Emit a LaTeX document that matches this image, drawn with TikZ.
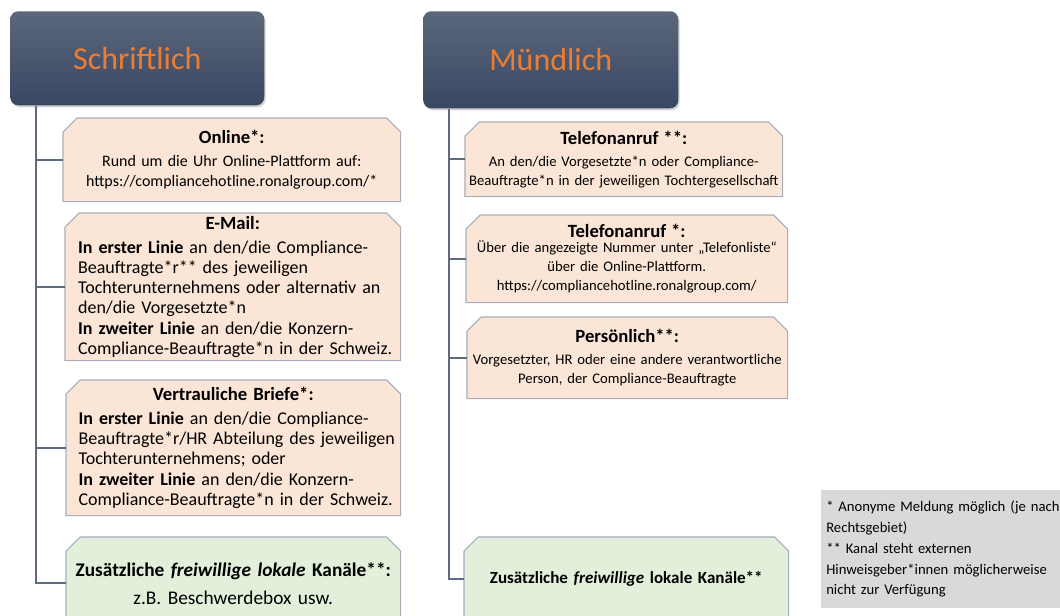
\documentclass[tikz,border=0pt]{standalone}
\usepackage{fontspec}
\setmainfont{Carlito}
\usetikzlibrary{shadows,backgrounds}

\definecolor{headtop}{HTML}{5B677B}
\definecolor{headbot}{HTML}{3A4762}
\definecolor{headtxt}{HTML}{ED7D31}
\definecolor{peach}{HTML}{FBE5D6}
\definecolor{mint}{HTML}{E2EFDA}
\definecolor{rim}{HTML}{A6AEBC}
\definecolor{trunk}{HTML}{5E6A7D}
\definecolor{notegray}{HTML}{D9D9D9}

\newcommand\boxtitle[2][2pt]{{\centering\fontsize{14}{17}\selectfont\bfseries #2\par}\vspace{#1}}

\begin{document}
\begin{tikzpicture}[x=0.75pt,y=-0.75pt,
  head node/.style={rounded corners=6pt,top color=headtop,bottom color=headbot,text=headtxt,
    font=\fontsize{24}{28}\selectfont,inner sep=0pt,anchor=north west,
    drop shadow={opacity=0.35,shadow xshift=1pt,shadow yshift=-1.5pt}},
  box node/.style={anchor=north west,inner sep=0pt,text width=236pt,align=center},
  note node/.style={fill=notegray,anchor=north west,inner xsep=3.75pt,text width=186pt,align=left,
    font=\fontsize{11}{15.6}\selectfont},
  chamfer/.style={draw=rim,line width=0.8pt},
  trunk line/.style={draw=trunk,line width=1.5pt}]
  \useasboundingbox (0,0) rectangle (1060,615);

  % left column
  \node[head node,minimum width=190.5pt,minimum height=70.5pt] (1) at (10,11) {Schriftlich};
  \node[box node,minimum width=252.75pt,minimum height=62.25pt,font=\fontsize{12}{15}\selectfont] (2) at (63,118)
    {\boxtitle{Online*:}Rund um die Uhr Online-Plattform auf:\\https://compliancehotline.ronalgroup.com/*};
  \node[box node,minimum width=251.25pt,minimum height=110.25pt,text width=250pt,align=left,font=\fontsize{13.5}{15.1}\selectfont] (3) at (65,213)
    {\boxtitle[3pt]{E-Mail:}\hspace*{9pt}\parbox[t]{241pt}{\raggedright
     \textbf{In erster Linie} an den/die Compliance-\\Beauftragte*r** des jeweiligen\\Tochterunternehmens oder alternativ an\\den/die Vorgesetzte*n\\
     \textbf{In zweiter Linie} an den/die Konzern-\\Compliance-Beauftragte*n in der Schweiz.}};
  \node[box node,minimum width=250.5pt,minimum height=101.25pt,text width=250pt,align=left,font=\fontsize{13.5}{15.1}\selectfont] (4) at (66,380)
    {\boxtitle[3pt]{Vertrauliche Briefe*:}\hspace*{9pt}\parbox[t]{241pt}{\raggedright
     \textbf{In erster Linie} an den/die Compliance-\\Beauftragte*r/HR Abteilung des jeweiligen\\Tochterunternehmens; oder\\
     \textbf{In zweiter Linie} an den/die Konzern-\\Compliance-Beauftragte*n in der Schweiz.}};
  \node[box node,minimum width=250.5pt,minimum height=69pt,text width=248pt,font=\fontsize{14.5}{21}\selectfont] (5) at (66,537)
    {\textbf{Zusätzliche \textit{freiwillige lokale} Kanäle**:}\\z.B. Beschwerdebox usw.};

  % right column
  \node[head node,minimum width=191.25pt,minimum height=72.75pt] (6) at (423,11) {Mündlich};
  \node[box node,minimum width=237.75pt,minimum height=55.5pt,font=\fontsize{11}{13.9}\selectfont] (7) at (465,122)
    {\boxtitle[3pt]{Telefonanruf **:}An den/die Vorgesetzte*n oder Compliance-\\Beauftragte*n in der jeweiligen Tochtergesellschaft};
  \node[box node,minimum width=240.75pt,minimum height=65.25pt,font=\fontsize{11}{14.2}\selectfont] (8) at (466,215)
    {\boxtitle[-3pt]{Telefonanruf *:}Über die angezeigte Nummer unter „Telefonliste“\\über die Online-Plattform.\\https://compliancehotline.ronalgroup.com/};
  \node[box node,minimum width=240pt,minimum height=60.75pt,font=\fontsize{11}{14.2}\selectfont] (9) at (467,317)
    {\boxtitle{Persönlich**:}Vorgesetzter, HR oder eine andere verantwortliche\\Person, der Compliance-Beauftragte};
  \node[box node,minimum width=243pt,minimum height=63pt,font=\fontsize{12.75}{15}\selectfont\bfseries] (10) at (464,537)
    {Zusätzliche \textit{freiwillige} lokale Kanäle**};

  % footnote
  \node[note node,minimum width=186pt,minimum height=88.5pt] (11) at (821,490)
    {* Anonyme Meldung möglich (je nach\\Rechtsgebiet)\\{}** Kanal steht externen\\Hinweisgeber*innen möglicherweise\\nicht zur Verfügung};

  % chamfered frames behind the texts
  \begin{pgfonlayer}{background}
    \foreach \n/\c in {2/peach,3/peach,4/peach,5/mint,7/peach,8/peach,9/peach,10/mint}
      \filldraw[chamfer,fill=\c] ([yshift=-10.5pt]\n.north west) -- ([xshift=10.5pt]\n.north west)
        -- ([xshift=-10.5pt]\n.north east) -- ([yshift=-10.5pt]\n.north east)
        -- (\n.south east) -- (\n.south west) -- cycle;
  \end{pgfonlayer}

  \coordinate (a) at ([xshift=19.5pt]1.south west);
  \coordinate (b) at ([xshift=19.5pt]6.south west);
  \draw[trunk line] (a) |- (5.west);
  \draw[trunk line] (b) |- (10.west);
  \path[trunk line]
    (2.west) edge (2.west -| a)
    (3.west) edge (3.west -| a)
    (4.west) edge (4.west -| a)
    (7.west) edge (7.west -| b)
    (8.west) edge (8.west -| b)
    (9.west) edge (9.west -| b);
\end{tikzpicture}
\end{document}
